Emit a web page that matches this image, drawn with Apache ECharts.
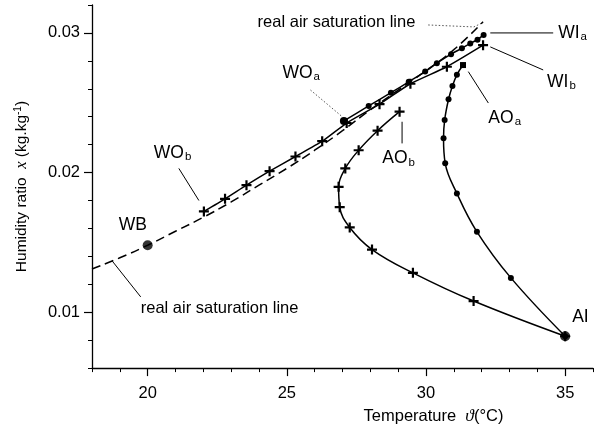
<!DOCTYPE html>
<html><head><meta charset="utf-8">
<script src="https://cdn.jsdelivr.net/npm/echarts@6/dist/echarts.min.js"></script>
<style>html,body{margin:0;padding:0;background:#fff}#c{width:603px;height:430px}</style>
</head><body><div id="c"></div>
<script>
// Real air saturation line (dashed)
const satT = [18, 19, 20, 21, 22, 23, 24, 25, 26, 27, 28, 29, 30, 31, 32.05];
const satX = [0.0131, 0.0139, 0.0148, 0.0158, 0.0168, 0.0179, 0.0191, 0.0203, 0.0216, 0.0230, 0.0245, 0.0259, 0.0273, 0.0288, 0.0308];
// WO_b -> WI_b (crosses)
const wobT = [22.02, 22.78, 23.55, 24.38, 25.31, 26.27, 27.15, 28.33, 29.44, 30.75, 32.05];
const wobX = [0.01722, 0.01812, 0.0191, 0.02010, 0.02115, 0.02225, 0.02355, 0.02490, 0.02636, 0.02758, 0.02912];
// WO_a -> WI_a (dots)
const woaT = [27.05, 27.94, 28.74, 29.38, 29.97, 30.39, 30.90, 31.29, 31.59, 31.85, 32.07];
const woaX = [0.02370, 0.02477, 0.02572, 0.02650, 0.02723, 0.02783, 0.02848, 0.02890, 0.02925, 0.02952, 0.02986];
// AI -> AO_b (crosses)
const aobT = [35, 31.71, 29.53, 28.06, 27.26, 26.90, 26.86, 27.10, 27.58, 28.26, 29.05];
const aobX = [0.00828, 0.0108, 0.01282, 0.01449, 0.01607, 0.01752, 0.01898, 0.0203, 0.0216, 0.0230, 0.02436];
// AI -> AO_a (dots)
const aoaT = [35, 33.05, 31.83, 31.11, 30.69, 30.63, 30.67, 30.81, 30.95, 31.11, 31.33];
const aoaX = [0.00828, 0.01246, 0.01576, 0.01851, 0.02066, 0.02245, 0.02376, 0.02525, 0.0262, 0.0270, 0.0277];
// Special points
const wbPoint = [20, 0.0148];
const aiPoint = [35, 0.00828];
// Axis ticks
const xMajor = [20, 25, 30, 35];
const yMajor = [0.01, 0.02, 0.03];

const FONT = 'Liberation Sans, Arial, sans-serif';
const zip = (a, b) => a.map((v, i) => [v, b[i]]);
const PLUS = 'path://M3.9,0H6.1V3.9H10V6.1H6.1V10H3.9V6.1H0V3.9H3.9Z';

const chart = echarts.init(document.getElementById('c'), null, {renderer: 'canvas'});

const lineBase = {type: 'line', xAxisIndex: 0, yAxisIndex: 0, animation: false,
  lineStyle: {color: '#000', width: 1.5}, itemStyle: {color: '#000'}};

chart.setOption({
  animation: false,
  backgroundColor: '#fff',
  grid: {left: 92, right: 10, top: 5, bottom: 61, containLabel: false},
  xAxis: [{
    type: 'value', min: 18, max: 36, interval: 1,
    axisLine: {lineStyle: {color: '#000', width: 1.3}},
    axisTick: {length: 4, lineStyle: {color: '#000'}},
    splitLine: {show: false},
    axisLabel: {margin: 17, fontSize: 16.5, color: '#000', fontFamily: FONT,
      formatter: v => (Math.abs(v % 5) < 1e-9 && v >= 20 && v <= 35) ? String(v) : ''},
    name: 'Temperature  {th|ϑ}(°C)', nameLocation: 'middle', nameGap: 38,
    nameTextStyle: {fontSize: 16.5, color: '#000', fontFamily: FONT, padding: [0, 0, 0, 182],
      rich: {th: {fontSize: 17.5, fontStyle: 'italic', fontFamily: 'Liberation Serif, serif', color: '#000'}}}
  }, {
    type: 'value', min: 18, max: 36, position: 'bottom',
    axisLine: {show: false}, splitLine: {show: false},
    axisTick: {length: 8, customValues: xMajor, lineStyle: {color: '#000', width: 1.2}},
    axisLabel: {show: false}
  }],
  yAxis: [{
    type: 'value', min: 0.006, max: 0.032, interval: 0.002,
    axisLine: {lineStyle: {color: '#000', width: 1.3}},
    axisTick: {length: 4, lineStyle: {color: '#000'}},
    splitLine: {show: false},
    axisLabel: {margin: 12, fontSize: 16.5, color: '#000', fontFamily: FONT,
      formatter: v => (Math.abs(v / 0.01 - Math.round(v / 0.01)) < 1e-6 && v > 0.007) ? v.toFixed(2) : ''},
    name: 'Humidity ratio  {i|x} (kg.kg{sup|-1})', nameLocation: 'middle', nameRotate: 90, nameGap: 62,
    nameTextStyle: {fontSize: 15.5, color: '#000', fontFamily: FONT,
      rich: {i: {fontSize: 16.5, fontStyle: 'italic', fontFamily: 'Liberation Serif, serif', color: '#000'},
             sup: {fontSize: 10, verticalAlign: 'top', color: '#000', fontFamily: FONT}}}
  }, {
    type: 'value', min: 0.006, max: 0.032, position: 'left',
    axisLine: {show: false}, splitLine: {show: false},
    axisTick: {length: 8, customValues: yMajor, lineStyle: {color: '#000', width: 1.2}},
    axisLabel: {show: false}
  }],
  series: [
    Object.assign({}, lineBase, {name: 'sat', data: zip(satT, satX), smooth: true, showSymbol: false,
      lineStyle: {color: '#000', width: 1.5, type: [9, 5]}}),
    Object.assign({}, lineBase, {name: 'WOb', data: zip(wobT, wobX), smooth: 0.2,
      symbol: PLUS, symbolSize: 10}),
    Object.assign({}, lineBase, {name: 'WOa', data: zip(woaT, woaX).map((p, i) =>
      i === 0 ? {value: p, symbolSize: 8} : p), smooth: 0.2,
      symbol: 'circle', symbolSize: 6}),
    Object.assign({}, lineBase, {name: 'AOb', data: zip(aobT, aobX), smooth: 0.4,
      symbol: PLUS, symbolSize: 10}),
    Object.assign({}, lineBase, {name: 'AOa', data: zip(aoaT, aoaX).map((p, i, arr) =>
      i === arr.length - 1 ? {value: p, symbol: 'rect', symbolSize: 6} : p), smooth: 0.4,
      symbol: 'circle', symbolSize: 6}),
    {type: 'scatter', data: [wbPoint, aiPoint], symbol: 'circle', symbolSize: 10,
      itemStyle: {color: '#000'}, animation: false, z: 5}
  ]
});

// Annotations, in data coordinates
const annotations = [
  {text: 'real air saturation line', at: [23.95, 0.03072], size: 16.5, leader: [[30.08, 0.03057], [31.72, 0.03043], [32.0, 0.0307]], dotted: true},
  {text: 'WO', sub: 'a', at: [24.84, 0.02713], size: 17.5, leader: [[25.85, 0.02591], [26.99, 0.0240]], dotted: true},
  {text: 'WO', sub: 'b', at: [20.22, 0.0214], size: 17.5, leader: [[21.12, 0.0203], [21.84, 0.0180]]},
  {text: 'WB', at: [18.96, 0.01624], size: 17.5},
  {text: 'real air saturation line', at: [19.75, 0.01029], size: 16.5, leader: [[18.73, 0.01366], [19.75, 0.0111]]},
  {text: 'WI', sub: 'a', at: [34.75, 0.0300], size: 17.5, leader: [[32.31, 0.0300], [34.57, 0.0300]]},
  {text: 'WI', sub: 'b', at: [34.35, 0.02649], size: 17.5, leader: [[32.31, 0.0290], [34.21, 0.02735]]},
  {text: 'AO', sub: 'a', at: [32.24, 0.02391], size: 17.5, leader: [[31.52, 0.02723], [32.24, 0.02498]]},
  {text: 'AO', sub: 'b', at: [28.43, 0.0210], size: 17.5, leader: [[29.14, 0.02364], [29.14, 0.02209]]},
  {text: 'AI', at: [35.25, 0.00964], size: 17.5}
];

const toPx = p => chart.convertToPixel({xAxisIndex: 0, yAxisIndex: 0}, p);
const graphics = [];
annotations.forEach(a => {
  const p = toPx(a.at);
  const txt = a.sub ? '{m|' + a.text + '}{s|' + a.sub + '}' : '{m|' + a.text + '}';
  graphics.push({type: 'text', x: p[0], y: p[1], silent: true,
    style: {text: txt, align: 'left', verticalAlign: 'middle', fill: '#000',
      rich: {m: {fontSize: a.size, fontFamily: FONT, fill: '#000', lineHeight: a.size + 2},
             s: {fontSize: 11.5, fontFamily: FONT, fill: '#000', verticalAlign: 'bottom', lineHeight: 11, padding: [0, 0, 0, 1]}}}});
  if (a.leader) {
    graphics.push({type: 'polyline', silent: true,
      shape: {points: a.leader.map(toPx)},
      style: {stroke: a.dotted ? '#555' : '#000', lineWidth: a.dotted ? 1 : 1, fill: null,
        lineDash: a.dotted ? [1.5, 2] : null}});
  }
});
chart.setOption({graphic: graphics});
</script>
</body></html>
